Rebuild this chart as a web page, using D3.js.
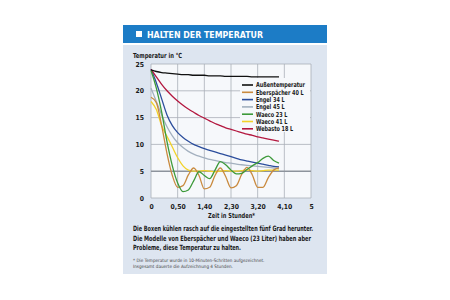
<!DOCTYPE html>
<html>
<head>
<meta charset="utf-8">
<script src="https://cdnjs.cloudflare.com/ajax/libs/d3/7.8.5/d3.min.js"></script>
<style>
  body { margin: 0; background: #fff; }
  text { font-family: "DejaVu Sans Condensed", "Liberation Sans Narrow", sans-serif; }
</style>
</head>
<body>
<svg class="chart"></svg>
<script>
// Minuten seit Start, alle 10 Minuten gemessen
var minutes = [0, 10, 20, 30, 40, 50, 60, 70, 80, 90, 100, 110, 120, 130, 140, 150, 160, 170, 180, 190, 200, 210, 220, 230, 240];

var aussen     = [23.9, 23.6, 23.4, 23.3, 23.2, 23.1, 23.0, 23.0, 22.9, 22.9, 22.9, 22.8, 22.8, 22.8, 22.7, 22.7, 22.7, 22.7, 22.7, 22.6, 22.6, 22.6, 22.6, 22.6, 22.6];
var eberspaecher = [18.8, 17.8, 13.5, 8.3, 4.2, 2.0, 2.3, 4.3, 5.6, 4.2, 1.7, 2.0, 4.2, 5.6, 4.0, 1.9, 2.3, 4.4, 5.7, 4.3, 2.0, 2.0, 3.8, 5.2, 5.6];
var engel34    = [24.0, 21.5, 18.5, 15.5, 13.5, 12.2, 11.3, 10.6, 10.0, 9.6, 9.2, 8.9, 8.6, 8.3, 8.0, 7.7, 7.4, 7.1, 6.9, 6.7, 6.5, 6.3, 6.1, 5.9, 5.8];
var engel45    = [20.5, 18.0, 15.5, 13.3, 11.6, 10.3, 9.4, 8.7, 8.2, 7.8, 7.5, 7.2, 7.0, 6.8, 6.6, 6.5, 6.3, 6.2, 6.1, 6.0, 5.9, 5.8, 5.7, 5.6, 5.5];
var waeco23    = [23.8, 20.5, 16.0, 10.5, 6.0, 2.8, 1.2, 1.5, 3.2, 4.9, 4.2, 3.6, 5.2, 6.8, 6.2, 5.2, 4.5, 4.6, 5.3, 6.0, 6.6, 7.4, 7.8, 7.0, 6.5];
var waeco41    = [18.0, 16.5, 13.5, 11.5, 9.5, 7.5, 6.0, 5.2, 5.0, 5.0, 5.1, 5.0, 4.9, 5.0, 5.1, 5.0, 5.0, 5.1, 5.2, 5.1, 5.0, 5.1, 5.2, 5.2, 5.2];
var webasto    = [24.0, 22.6, 21.2, 20.0, 19.0, 18.1, 17.3, 16.6, 16.0, 15.4, 14.9, 14.4, 13.9, 13.5, 13.1, 12.8, 12.5, 12.2, 11.9, 11.7, 11.4, 11.2, 11.0, 10.8, 10.6];

var seriesNames  = ["Außentemperatur", "Eberspächer 40 L", "Engel 34 L", "Engel 45 L", "Waeco 23 L", "Waeco 41 L", "Webasto 18 L"];
var seriesColors = ["#111111", "#c98a3e", "#2b4d9c", "#a3b0bf", "#3d9a3a", "#f2d22a", "#b3173f"];
var seriesValues = [aussen, eberspaecher, engel34, engel45, waeco23, waeco41, webasto];

var xTicks = [0, 50, 100, 150, 200, 250, 300];
var xTickLabels = ["0", "0,50", "1,40", "2,30", "3,20", "4,10", "5"];
var yTicks = [0, 5, 10, 15, 20, 25];

var textLines = ["Die Boxen kühlen rasch auf die eingestellten fünf Grad herunter.",
                 "Die Modelle von Eberspächer und Waeco (23 Liter) haben aber",
                 "Probleme, diese Temperatur zu halten."];
var textWidths = [180, 178, 108];
var footLines = ["* Die Temperatur wurde in 10-Minuten-Schritten aufgezeichnet.",
                 "Insgesamt dauerte die Aufzeichnung 4 Stunden."];

var width = 450, height = 300;
var svg = d3.select(".chart").attr("width", width).attr("height", height);

// Kasten und Titelbalken
svg.append("rect").attr("x", 123).attr("y", 25).attr("width", 204).attr("height", 18).attr("fill", "#1c7cc6");
svg.append("rect").attr("x", 136).attr("y", 31).attr("width", 6).attr("height", 6).attr("fill", "#fff");
svg.append("text").attr("x", 147).attr("y", 37.5).text("HALTEN DER TEMPERATUR")
    .attr("fill", "#fff").attr("font-size", 8.5).attr("font-weight", "bold")
    .attr("textLength", 116).attr("lengthAdjust", "spacingAndGlyphs");
svg.append("rect").attr("x", 123).attr("y", 45).attr("width", 204).attr("height", 229).attr("fill", "#dde5f0");

var x = d3.scaleLinear().domain([0, 300]).range([151, 311]);
var y = d3.scaleLinear().domain([0, 25]).range([198, 64]);

svg.append("rect").attr("x", x(0)).attr("y", y(25)).attr("width", x(300) - x(0)).attr("height", y(0) - y(25))
    .attr("fill", "#f6f8fb");

// Gitter
svg.selectAll(".vgrid").data(xTicks).enter().append("line")
    .attr("x1", function(d) { return x(d); }).attr("x2", function(d) { return x(d); })
    .attr("y1", y(0)).attr("y2", y(25))
    .attr("stroke", "#a9afb8").attr("stroke-width", 0.8);
svg.selectAll(".hgrid").data(yTicks).enter().append("line")
    .attr("x1", x(0)).attr("x2", x(300))
    .attr("y1", function(d) { return y(d); }).attr("y2", function(d) { return y(d); })
    .attr("stroke", function(d) { return d == 5 ? "#8d939c" : "#a9afb8"; })
    .attr("stroke-width", function(d) { return d == 5 ? 1.6 : 0.8; });

// Achsen (nur Beschriftung)
var xAxis = d3.axisBottom(x).tickValues(xTicks).tickSize(0).tickPadding(6)
    .tickFormat(function(d, i) { return xTickLabels[i]; });
var gx = svg.append("g").attr("transform", "translate(0," + y(0) + ")").call(xAxis);
var yAxis = d3.axisLeft(y).tickValues(yTicks).tickSize(0).tickPadding(7);
var gy = svg.append("g").attr("transform", "translate(" + x(0) + ",0)").call(yAxis);
[gx, gy].forEach(function(g) {
    g.select(".domain").remove();
    g.selectAll("text").attr("font-family", "DejaVu Sans Condensed, sans-serif")
        .attr("font-size", 6.8).attr("font-weight", "bold").attr("fill", "#1a1a1a");
});

svg.append("text").attr("x", 133).attr("y", 58).text("Temperatur in °C")
    .attr("font-size", 7).attr("font-weight", "bold").attr("fill", "#1a1a1a")
    .attr("textLength", 49).attr("lengthAdjust", "spacingAndGlyphs");
svg.append("text").attr("x", 208).attr("y", 218).text("Zeit in Stunden*")
    .attr("font-size", 7).attr("font-weight", "bold").attr("fill", "#1a1a1a")
    .attr("textLength", 47).attr("lengthAdjust", "spacingAndGlyphs");

// Legende
var legend = svg.append("g").attr("transform", "translate(240,78)");
legend.append("rect").attr("x", 0).attr("y", 0).attr("width", 70).attr("height", 54).attr("fill", "#f6f8fb");
var entry = legend.selectAll(".entry").data(seriesNames).enter().append("g")
    .attr("transform", function(d, i) { return "translate(0," + (7 + i * 7.3) + ")"; });
entry.append("line").attr("x1", 2).attr("x2", 13).attr("y1", 0).attr("y2", 0)
    .attr("stroke", function(d, i) { return seriesColors[i]; }).attr("stroke-width", 1.6);
entry.append("text").attr("transform", "translate(16,2.4) scale(0.8,1)").text(function(d) { return d; })
    .attr("font-size", 6.8).attr("font-weight", "bold").attr("fill", "#1a1a1a");

// Kurven
var line = d3.line()
    .x(function(d, i) { return x(minutes[i]); })
    .y(function(d) { return y(d); })
    .curve(d3.curveMonotoneX);

var drawOrder = [3, 2, 6, 5, 1, 4, 0];
drawOrder.forEach(function(k) {
    svg.append("path").datum(seriesValues[k])
        .attr("d", line)
        .attr("fill", "none")
        .attr("stroke", seriesColors[k])
        .attr("stroke-width", 1.3);
});

// Text unter dem Diagramm
svg.selectAll(".body").data(textLines).enter().append("text")
    .attr("x", 133).attr("y", function(d, i) { return 231 + i * 9.5; })
    .text(function(d) { return d; })
    .attr("textLength", function(d, i) { return textWidths[i]; }).attr("lengthAdjust", "spacingAndGlyphs")
    .attr("font-size", 7.3).attr("font-weight", "bold").attr("fill", "#1a1a1a");
svg.selectAll(".foot").data(footLines).enter().append("text")
    .attr("x", 133).attr("y", function(d, i) { return 262 + i * 5.5; })
    .text(function(d) { return d; })
    .attr("font-size", 4.6).attr("fill", "#444");
</script>
</body>
</html>
